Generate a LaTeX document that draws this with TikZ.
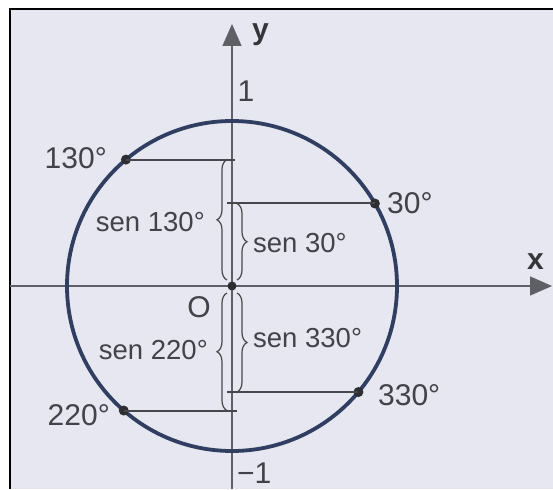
\documentclass[tikz,border=0pt]{standalone}
\usepackage{fontspec}
\setmainfont{Liberation Sans}
\usetikzlibrary{arrows.meta,decorations.pathreplacing,calc}
\definecolor{bgc}{RGB}{231,231,241}
\definecolor{txt}{RGB}{66,66,72}
\definecolor{axc}{RGB}{95,95,102}
\definecolor{circc}{RGB}{48,62,98}
\definecolor{dotc}{RGB}{45,45,50}
\definecolor{linec}{RGB}{70,70,75}
\begin{document}
\begin{tikzpicture}[x=1pt,y=1pt,
  axisline/.style={line width=1.4pt,draw=axc,-{Triangle[length=22pt,width=19pt]}},
  circline/.style={line width=3.8pt,draw=circc},
  ptdot/.style={circle,fill=dotc,inner sep=0pt,minimum size=10pt},
  hline/.style={line width=2pt,draw=linec},
  bracepath/.style={line width=1.2pt,draw=linec,decorate,decoration={brace,amplitude=10pt}},
  biglabel/.style={text=txt,inner sep=0pt,font=\fontsize{30}{30}\selectfont},
  smalllabel/.style={text=txt,inner sep=0pt,font=\fontsize{27.5}{27.5}\selectfont},
  axlabel/.style={text=txt!80!black,inner sep=0pt,font=\fontsize{30}{30}\selectfont\bfseries}
]
\useasboundingbox (-232,-203) rectangle (321,286);
\fill[white] (-232,-203) rectangle (321,286);
\fill[bgc] (-222,-203) rectangle (321,277);
\draw[black,line width=2pt] (-222,-203) -- (-222,277) -- (321,277);

% axes
\coordinate (xl) at (-222,0);
\coordinate (xr) at (320,0);
\coordinate (yb) at (0,-203);
\coordinate (yt) at (0,262);
\draw[axisline] (xl) -- (xr);
\draw[axisline] (yb) -- (yt);

% circle
\draw[circline] (0,0) circle (165);

% axis reference coordinates
\coordinate (a130) at (3,0);
\coordinate (a30) at (-5,0);
\coordinate (a220) at (5,0);
\coordinate (a330) at (-5,0);
\coordinate (bl) at (-5,0);
\coordinate (br) at (5,0);
\coordinate (blt) at (-5,6);
\coordinate (brt) at (5,6);
\coordinate (blb) at (-5,-7);
\coordinate (brb) at (5,-7);

% points
\node[ptdot] (p130) at (130:165) {};
\node[ptdot] (p30) at (30:165) {};
\node[ptdot] (p220) at (229:165) {};
\node[ptdot] (p330) at (320:165) {};

% horizontal lines
\draw[hline] (p130.center) -- (p130.center -| a130);
\draw[hline] (p30.center -| a30) -- (p30.center);
\draw[hline] (p220.center) -- (p220.center -| a220);
\draw[hline] (p330.center -| a330) -- (p330.center);

% braces
\draw[bracepath] (blt) -- (p130.center -| bl);
\draw[bracepath] (p30.center -| br) -- (brt);
\draw[bracepath] (p220.center -| bl) -- (blb);
\draw[bracepath] (brb) -- (p330.center -| br);

% origin
\node[ptdot,minimum size=9pt] (O) at (0,0) {};

% labels
\node[axlabel,anchor=north west] (ly) at (20,263) {y};
\node[axlabel,anchor=south west] (lx) at (295,16) {x};
\node[biglabel] (l1) at (14,195) {1};
\node[biglabel,anchor=north west] (lm1) at (5,-177) {−1};
\node[biglabel] (lO) at (-33,-21) {O};
\node[biglabel,anchor=east] (l130) at (-125,128) {130°};
\node[biglabel,anchor=west] (l30) at (155,83) {30°};
\node[biglabel,anchor=east] (l220) at (-122,-129) {220°};
\node[biglabel,anchor=west] (l330) at (146,-109) {330°};
\node[smalllabel,anchor=east] (s130) at (-27,64) {sen 130°};
\node[smalllabel,anchor=west] (s30) at (21,43) {sen 30°};
\node[smalllabel,anchor=east] (s220) at (-24,-64) {sen 220°};
\node[smalllabel,anchor=west] (s330) at (21,-52) {sen 330°};
\end{tikzpicture}
\end{document}
